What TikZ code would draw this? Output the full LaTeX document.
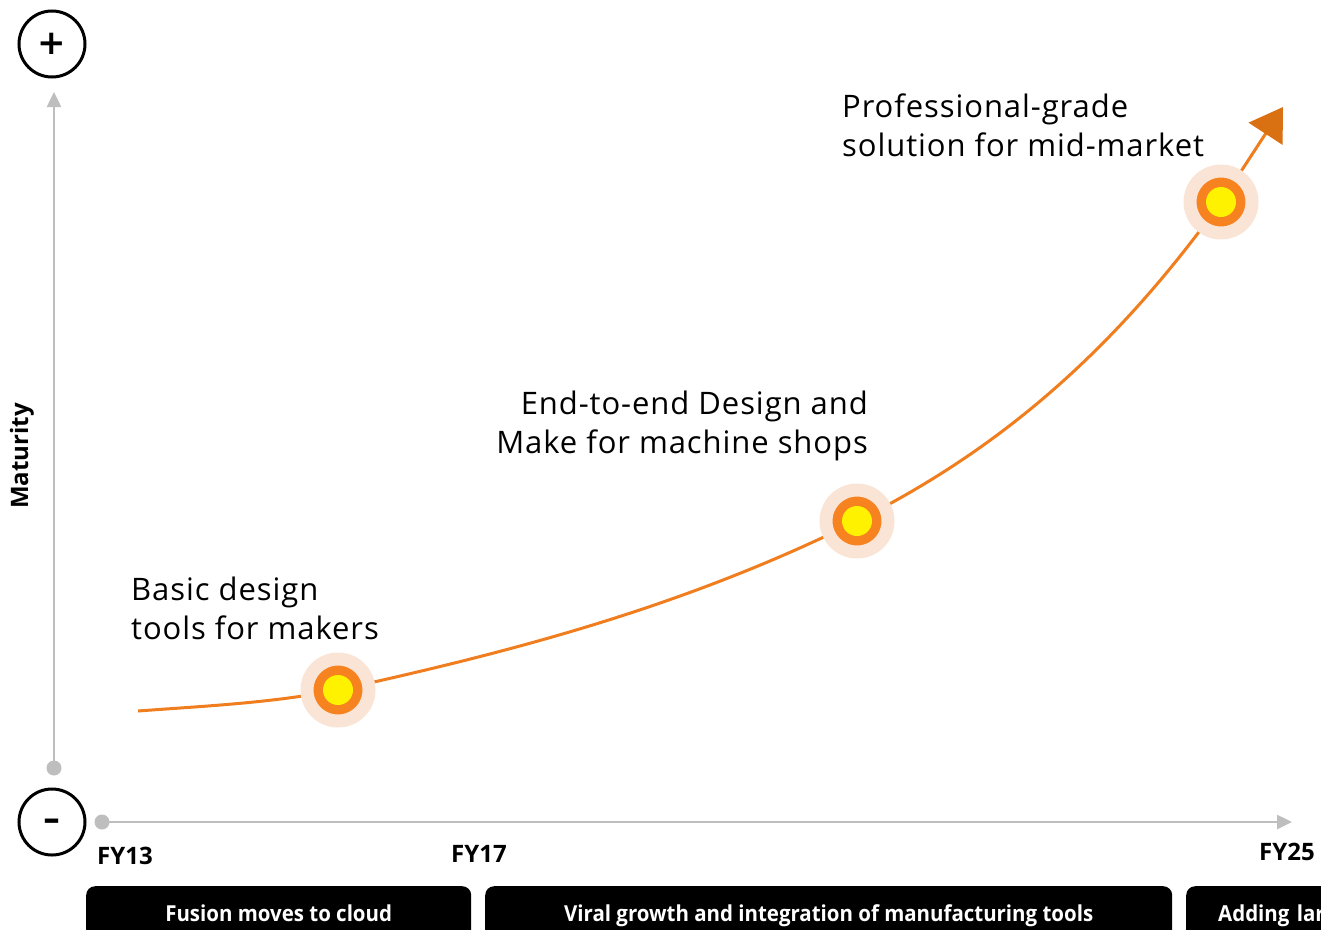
\documentclass[tikz,border=0pt]{standalone}
\usepackage{fontspec}
\setmainfont{Open Sans}
\newfontfamily\notefont[LetterSpace = 3]{Open Sans}
\newfontfamily\condfont[FakeStretch = 0.93]{Open Sans}
\newfontfamily\signfont{DejaVu Sans}
\usetikzlibrary{arrows.meta}

\definecolor{axisgray}{RGB}{190,190,190}
\definecolor{curveorange}{RGB}{240,125,30}
\definecolor{tiporange}{RGB}{217,112,18}
\definecolor{halo}{RGB}{250,228,214}
\definecolor{ring}{RGB}{247,130,32}
\definecolor{core}{RGB}{255,242,0}

\tikzset{
  axis line/.style = {draw = axisgray, line width = 2.5,
    -{Triangle[length = 15pt, width = 14pt]}},
  axis dot/.style = {circle, fill = axisgray, inner sep = 0, minimum size = 15},
  sign/.style = {circle, draw, line width = 3, minimum size = 66, inner sep = 0,
    font = \signfont\bfseries\fontsize{34}{34}\selectfont},
  milestone/.style = {circle, inner sep = 0, minimum size = 62, fill = ring,
    draw = halo, line width = 13, path picture = {
      \fill[core] (path picture bounding box.center) circle[radius = 15];}},
  note/.style = {inner sep = 0, font = \notefont\fontsize{31}{38.5}\selectfont},
  year/.style = {inner sep = 0, font = \bfseries\fontsize{24}{28}\selectfont},
  phase/.style = {fill = black, text = white, rounded corners = 9, inner sep = 0,
    minimum height = 54, text height = 16, text depth = 0,
    font = \condfont\bfseries\fontsize{22}{26}\selectfont}
}

\begin{document}
\begin{tikzpicture}[x = 1pt, y = -1pt]
  \useasboundingbox (0, 0) rectangle (1321, 929);
  \clip (0, 0) rectangle (1321, 929);

  % axes
  \node[sign] (plus) at (52, 44) {+};
  \node[sign, text height = 16, text depth = 0] (minus) at (52, 822) {–};
  \node[axis dot] (ydot) at (54, 768) {};
  \node[axis dot] (xdot) at (102, 822) {};
  \coordinate (ytip) at (54, 92);
  \coordinate (xtip) at (1292, 822);
  \draw[axis line] (ydot.center) -- (ytip);
  \draw[axis line] (xdot.center) -- (xtip);

  \node[rotate = 90, font = \bfseries\fontsize{24}{28}\selectfont] (maturity)
  at (22, 456) {Maturity};

  % growth curve
  \coordinate (start) at (138, 711);
  \coordinate (p1) at (338, 690);
  \coordinate (p2) at (857, 521);
  \coordinate (p3) at (1221, 202);
  \coordinate (tip) at (1283, 107);

  \draw[curveorange, line width = 3,
  -{Triangle[length = 32pt, width = 40pt, color = tiporange]}]
  (start) .. controls (205, 706) and (271, 703) .. (p1)
  .. controls (511, 652) and (684, 607) .. (p2)
  .. controls (978, 460) and (1100, 371) .. (p3) -- (tip);

  \node[milestone] (makers) at (p1) {};
  \node[milestone] (shops) at (p2) {};
  \node[milestone] (midmarket) at (p3) {};

  \node[note, anchor = north west, align = left] (makers text) at (131, 577)
  {Basic design\\tools for makers};
  \node[note, anchor = north east, align = right] (shops text) at (868, 391)
  {End-to-end Design and\\Make for machine shops};
  \node[note, anchor = north west, align = left] (midmarket text) at (842, 94)
  {Professional-grade\\solution for mid-market};

  % years and phases
  \node[year, anchor = base west] (fy13) at (97, 864) {FY13};
  \node[year, anchor = base west] (fy17) at (451, 862) {FY17};
  \node[year, anchor = base west] (fy25) at (1259, 860) {FY25};

  \node[phase, anchor = north west, minimum width = 385] (cloud) at (86, 886)
  {Fusion moves to cloud};
  \node[phase, anchor = north west, minimum width = 687] (viral) at (485, 886)
  {Viral growth and integration of manufacturing tools};
  \node[phase, anchor = north west, inner xsep = 32, text width = 250,
  align = left] (adding) at (1186, 886) {Adding lar};
\end{tikzpicture}
\end{document}
